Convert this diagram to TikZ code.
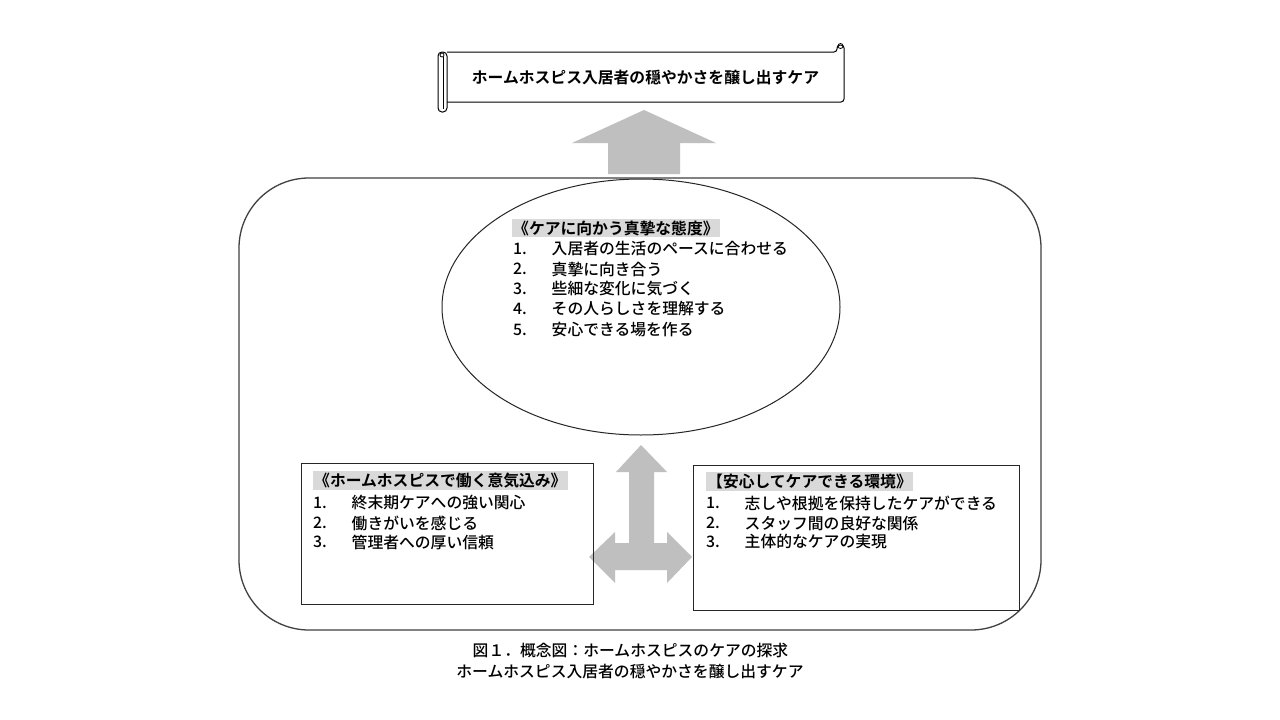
\documentclass[tikz,border=0pt]{standalone}
\usepackage{fontspec}
\setmainfont{Noto Sans CJK JP Medium}[BoldFont={Noto Sans CJK JP Bold}]
\usetikzlibrary{shapes.geometric}
\definecolor{arrowgray}{HTML}{BFBFBF}
\definecolor{titlegray}{HTML}{D9D9D9}
\definecolor{linegray}{HTML}{404040}
\tikzset{
  txt/.style={anchor=west,inner sep=0pt,font=\fontsize{15.8}{18}\selectfont},
  btxt/.style={txt,font=\fontsize{15.8}{18}\selectfont\bfseries},
  graytitle/.style={anchor=west,fill=titlegray,inner xsep=1pt,inner ysep=2pt,font=\fontsize{15.8}{18}\selectfont\bfseries},
  bigarrow/.style={fill=arrowgray,draw=none},
  boxline/.style={draw=black!85,line width=1pt},
}
\begin{document}
\begin{tikzpicture}[x=1pt,y=-1pt]
\useasboundingbox (0,0) rectangle (1280,720);
\fill[white] (0,0) rectangle (1280,720);

% outer rounded frame
\draw[draw=linegray,line width=1.3pt,rounded corners=70pt] (239,178) rectangle (1041,630);

% scroll
\draw[line width=1pt,rounded corners=3pt] (447,52) -- (837,52) -- (837,45) -- (844,45) -- (844,102) -- (447,102);
\draw[line width=0.8pt] (840.5,46) circle[radius=2.5pt];
\draw[line width=1pt,rounded corners=4pt] (438,52) rectangle (447,112);
\draw[line width=0.8pt] (443,57) -- (443,109);
\draw[line width=0.8pt] (442,55) circle[radius=2pt];
\node[btxt,anchor=center] (scrolltitle) at (645.5,78) {ホームホスピス入居者の穏やかさを醸し出すケア};

% up arrow
\path[bigarrow] (608,174) -- (608,143) -- (572,143) -- (644,110) -- (716,143) -- (680,143) -- (680,174) -- cycle;

% ellipse
\node[draw=black!85,line width=1pt,ellipse,minimum width=398pt,minimum height=256pt,inner sep=0pt] (ell) at (641,307) {};
\node[graytitle] (t1) at (512,228) {《ケアに向かう真摯な態度》};
\foreach \n/\yy/\t in {1/249/入居者の生活のペースに合わせる,2/269/真摯に向き合う,3/289/些細な変化に気づく,4/309/その人らしさを理解する,5/330/安心できる場を作る}{
  \node[txt] (en\n) at (513,\yy) {\n.};
  \node[txt] (et\n) at (551.5,\yy) {\t};
}

% three-way arrow
\path[bigarrow] (641,445) -- (667,472) -- (654,472) -- (654,543) -- (667,543) -- (667,532) -- (692,557) -- (667,583) -- (667,570) -- (615,570) -- (615,583) -- (589,557) -- (615,532) -- (615,543) -- (629,543) -- (629,472) -- (616,472) -- cycle;

% left box
\draw[boxline] (301,463) rectangle (593,604);
\node[graytitle] (t2) at (313,480.5) {《ホームホスピスで働く意気込み》};
\foreach \n/\yy/\t in {1/503/終末期ケアへの強い関心,2/523/働きがいを感じる,3/542/管理者への厚い信頼}{
  \node[txt] (ln\n) at (313,\yy) {\n.};
  \node[txt] (lt\n) at (351.5,\yy) {\t};
}

% right box
\draw[boxline] (693,465) rectangle (1019.5,610);
\node[graytitle] (t3) at (706,481.5) {【安心してケアできる環境》};
\foreach \n/\yy/\t in {1/503/志しや根拠を保持したケアができる,2/523/スタッフ間の良好な関係,3/542/主体的なケアの実現}{
  \node[txt] (rn\n) at (706,\yy) {\n.};
  \node[txt] (rt\n) at (744.5,\yy) {\t};
}

% caption
\node[txt,anchor=center] (cap1) at (630.5,651) {図１．概念図：ホームホスピスのケアの探求};
\node[txt,anchor=center] (cap2) at (630,672) {ホームホスピス入居者の穏やかさを醸し出すケア};
\end{tikzpicture}
\end{document}
